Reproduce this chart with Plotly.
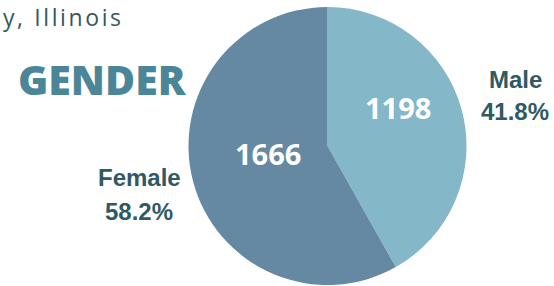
import plotly.graph_objects as go

categories = ["Male", "Female"]
counts = [1198, 1666]
colors = ["#84b7c8", "#6589a3"]
title_text = "GENDER"
header_text = "y, Illinois"

total = sum(counts)
pcts = [c / total * 100 for c in counts]

W, H = 554, 286


def px(x):
    return x / W


def py(y):
    return 1 - y / H


fig = go.Figure()
fig.add_trace(go.Pie(
    labels=categories,
    values=counts,
    sort=False,
    direction="clockwise",
    rotation=0,
    marker=dict(colors=colors, line=dict(width=0)),
    textinfo="none",
    hoverinfo="label+value+percent",
    showlegend=False,
    domain=dict(x=[px(188), px(467)], y=[py(285), py(7)]),
))

# value labels inside slices
value_pos = [(397.5, 107), (267.5, 153)]
for v, (x, y) in zip(counts, value_pos):
    fig.add_annotation(x=px(x), y=py(y), xref="paper", yref="paper",
                       xanchor="center", yanchor="middle",
                       text=f"<b>{v}</b>", showarrow=False,
                       font=dict(family="Open Sans", size=29, color="white", weight=700))

# outer labels: name and percentage
name_pos = [(515.5, 79), (139.5, 177.5)]
pct_pos = [(515, 111.5), (139, 211)]
lab_font = dict(family="Liberation Sans, Arial", size=24, color="#2f5a64", weight=700)
for cat, p, (nx, ny), (qx, qy) in zip(categories, pcts, name_pos, pct_pos):
    fig.add_annotation(x=px(nx), y=py(ny), xref="paper", yref="paper",
                       xanchor="center", yanchor="middle",
                       text=f"<b>{cat}</b>", showarrow=False, font=lab_font)
    fig.add_annotation(x=px(qx), y=py(qy), xref="paper", yref="paper",
                       xanchor="center", yanchor="middle",
                       text=f"<b>{p:.1f}%</b>", showarrow=False, font=lab_font)

fig.add_annotation(x=px(16), y=py(79), xref="paper", yref="paper",
                   xanchor="left", yanchor="middle",
                   text=title_text, showarrow=False,
                   font=dict(family="Open Sans", size=41, color="#4a8598", weight=800))

fig.add_annotation(x=px(2), y=py(0), xref="paper", yref="paper",
                   xanchor="left", yanchor="top", borderpad=0,
                   text=f'<span style="letter-spacing:2.6px">{header_text}</span>',
                   showarrow=False,
                   font=dict(family="Open Sans", size=23, color="#35585f"))

fig.update_layout(
    width=W, height=H,
    margin=dict(l=0, r=0, t=0, b=0),
    paper_bgcolor="white", plot_bgcolor="white",
)

fig.write_html("out.html",
               config={"displayModeBar": False},
               post_script="document.body.style.margin='0px';document.body.style.padding='0px';")
